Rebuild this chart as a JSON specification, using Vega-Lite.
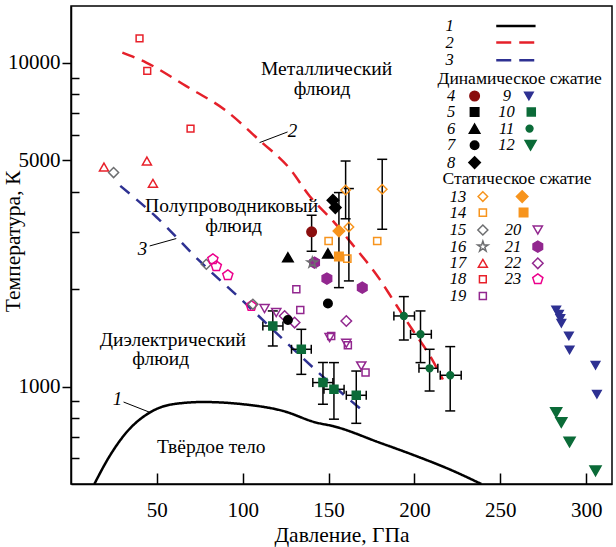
{
  "$schema": "https://vega.github.io/schema/vega-lite/v6.json",
  "width": 541,
  "height": 478,
  "autosize": {"type": "none"},
  "padding": {"left": 71, "top": 6, "right": 4, "bottom": 63},
  "background": "white",
  "config": {
    "font": "Liberation Serif",
    "view": {"stroke": "black", "strokeWidth": 1.5},
    "axis": {"grid": false, "domainColor": "black", "domainWidth": 1.5, "tickColor": "black", "tickWidth": 1.5, "labelColor": "black", "titleColor": "black", "labelFont": "Liberation Serif", "titleFont": "Liberation Serif", "labelFontSize": 21, "titleFontSize": 21.5, "titleFontWeight": "normal"}
  },
  "datasets": {
    "curves": [
      {"id": "1", "P": 13.6, "T": 500}, {"id": "1", "P": 22.5, "T": 610}, {"id": "1", "P": 32.2, "T": 721}, {"id": "1", "P": 45.8, "T": 831}, {"id": "1", "P": 59.3, "T": 882}, {"id": "1", "P": 76.8, "T": 896}, {"id": "1", "P": 100.1, "T": 882}, {"id": "1", "P": 123.4, "T": 841}, {"id": "1", "P": 142.8, "T": 774}, {"id": "1", "P": 152.5, "T": 755}, {"id": "1", "P": 179.7, "T": 671}, {"id": "1", "P": 201.0, "T": 610}, {"id": "1", "P": 220.4, "T": 555}, {"id": "1", "P": 238.9, "T": 500},
      {"id": "2", "P": 29.9, "T": 10770}, {"id": "2", "P": 43.8, "T": 10030}, {"id": "2", "P": 67.1, "T": 8480}, {"id": "2", "P": 90.4, "T": 7110}, {"id": "2", "P": 110, "T": 5750}, {"id": "2", "P": 127.3, "T": 4720}, {"id": "2", "P": 138.9, "T": 3880}, {"id": "2", "P": 152.5, "T": 3250}, {"id": "2", "P": 164.1, "T": 2740}, {"id": "2", "P": 179.7, "T": 2148}, {"id": "2", "P": 188, "T": 1835}, {"id": "2", "P": 199.1, "T": 1490}, {"id": "2", "P": 208.8, "T": 1250}, {"id": "2", "P": 216.5, "T": 1052},
      {"id": "3", "P": 28.7, "T": 4170}, {"id": "3", "P": 50, "T": 3330}, {"id": "3", "P": 75, "T": 2440}, {"id": "3", "P": 100, "T": 1840}, {"id": "3", "P": 125, "T": 1375}, {"id": "3", "P": 147, "T": 1070}, {"id": "3", "P": 170, "T": 841},
      {"id": "L1", "P": 247.6, "T": 13010}, {"id": "L1", "P": 270.5, "T": 13010},
      {"id": "L2", "P": 247.6, "T": 11563}, {"id": "L2", "P": 270.5, "T": 11563},
      {"id": "L3", "P": 247.6, "T": 10193}, {"id": "L3", "P": 270.5, "T": 10193}
    ],
    "leaders": [
      {"P": 30.6, "T": 896, "P2": 45.8, "T2": 833},
      {"P": 126.1, "T": 6122, "P2": 109.8, "T2": 5675},
      {"P": 45.8, "T": 2720, "P2": 61.3, "T2": 2867}
    ],
    "pts": [
      {"s": "18", "P": 39.9, "T": 11920}, {"s": "18", "P": 44.4, "T": 9448}, {"s": "18", "P": 69.6, "T": 6271},
      {"s": "17", "P": 19.2, "T": 4771}, {"s": "17", "P": 44.2, "T": 4979}, {"s": "17", "P": 47.7, "T": 4248},
      {"s": "15", "P": 24.8, "T": 4585}, {"s": "15", "P": 78.8, "T": 2388},
      {"s": "23", "P": 82.6, "T": 2474}, {"s": "23", "P": 84.6, "T": 2354}, {"s": "23", "P": 91.3, "T": 2208}, {"s": "23", "P": 105.0, "T": 1775},
      {"s": "15", "P": 105.9, "T": 1796},
      {"s": "20", "P": 112.7, "T": 1742}, {"s": "20", "P": 119.5, "T": 1693}, {"s": "20", "P": 150.6, "T": 1417}, {"s": "20", "P": 160.3, "T": 1361}, {"s": "20", "P": 169.0, "T": 1158},
      {"s": "22", "P": 124.4, "T": 1653}, {"s": "22", "P": 130.2, "T": 1577}, {"s": "22", "P": 160.3, "T": 1595},
      {"s": "19", "P": 131.2, "T": 1998}, {"s": "19", "P": 133.5, "T": 1725}, {"s": "19", "P": 151.5, "T": 1434}, {"s": "19", "P": 161.2, "T": 1342}, {"s": "19", "P": 171.5, "T": 1105},
      {"s": "21", "P": 141.8, "T": 2416}, {"s": "21", "P": 149.0, "T": 2157}, {"s": "21", "P": 169.6, "T": 2022},
      {"s": "16", "P": 140.5, "T": 2416},
      {"s": "7", "P": 126.3, "T": 1606}, {"s": "7", "P": 149.6, "T": 1805},
      {"s": "6", "P": 126.3, "T": 2509}, {"s": "6", "P": 149.6, "T": 2581},
      {"s": "4", "P": 140.1, "T": 3009, "Tlo": 2619, "Thi": 3384},
      {"s": "8", "P": 152.5, "T": 3765}, {"s": "8", "P": 153.9, "T": 3573},
      {"s": "14", "P": 150.0, "T": 2818}, {"s": "14", "P": 160.9, "T": 2486}, {"s": "14", "P": 178.3, "T": 2818},
      {"s": "14b", "P": 156.0, "T": 2522},
      {"s": "13b", "P": 156.0, "T": 3026, "Tlo": 2022, "Thi": 3977},
      {"s": "13", "P": 159.9, "T": 4051, "Tlo": 3300, "Thi": 4978}, {"s": "13", "P": 161.8, "T": 3113, "Tlo": 2121, "Thi": 4092}, {"s": "13", "P": 181.2, "T": 4072, "Tlo": 3063, "Thi": 5039},
      {"s": "10", "P": 117.5, "T": 1539, "Tlo": 1335, "Thi": 1713, "Plo": 111.7, "Phi": 123.4},
      {"s": "10", "P": 134.1, "T": 1304, "Tlo": 1091, "Thi": 1503, "Plo": 128.4, "Phi": 139.9},
      {"s": "10", "P": 146.7, "T": 1029, "Tlo": 882, "Thi": 1186, "Plo": 140.8, "Phi": 152.5},
      {"s": "10", "P": 153.1, "T": 981, "Tlo": 793, "Thi": 1186, "Plo": 147.3, "Phi": 159.0},
      {"s": "10", "P": 166.1, "T": 940, "Tlo": 770, "Thi": 1117, "Plo": 160.3, "Phi": 171.9},
      {"s": "11", "P": 193.8, "T": 1653, "Tlo": 1393, "Thi": 1897, "Plo": 188.0, "Phi": 200.0},
      {"s": "11", "P": 203.5, "T": 1451, "Tlo": 1186, "Thi": 1713, "Plo": 197.7, "Phi": 209.8},
      {"s": "11", "P": 208.8, "T": 1139, "Tlo": 969, "Thi": 1304, "Plo": 202.6, "Phi": 213.6},
      {"s": "11", "P": 220.8, "T": 1084, "Tlo": 841, "Thi": 1329, "Plo": 215.0, "Phi": 227.2},
      {"s": "9", "P": 282.5, "T": 1725}, {"s": "9", "P": 284.1, "T": 1673}, {"s": "9", "P": 284.9, "T": 1623}, {"s": "9", "P": 285.5, "T": 1569}, {"s": "9", "P": 289.9, "T": 1434}, {"s": "9", "P": 290.3, "T": 1298}, {"s": "9", "P": 305.4, "T": 1164}, {"s": "9", "P": 306.2, "T": 947},
      {"s": "12", "P": 282.5, "T": 831}, {"s": "12", "P": 285.5, "T": 774}, {"s": "12", "P": 290.3, "T": 674}, {"s": "12", "P": 305.4, "T": 549}
    ],
    "legsym": [
      {"s": "4", "P": 235.0, "T": 7907}, {"s": "5", "P": 235.0, "T": 7058}, {"s": "6", "P": 235.0, "T": 6270}, {"s": "7", "P": 235.0, "T": 5568}, {"s": "8", "P": 235.0, "T": 4922},
      {"s": "9", "P": 266.6, "T": 7907}, {"s": "10", "P": 268.0, "T": 7058}, {"s": "11", "P": 267.0, "T": 6270}, {"s": "12", "P": 267.6, "T": 5568},
      {"s": "13", "P": 239.8, "T": 3865}, {"s": "13b", "P": 262.7, "T": 3865},
      {"s": "14", "P": 239.8, "T": 3449}, {"s": "14b", "P": 263.5, "T": 3449},
      {"s": "15", "P": 239.8, "T": 3047}, {"s": "16", "P": 239.8, "T": 2708}, {"s": "17", "P": 239.8, "T": 2404}, {"s": "18", "P": 239.8, "T": 2146}, {"s": "19", "P": 239.8, "T": 1905},
      {"s": "20", "P": 271.8, "T": 3047}, {"s": "21", "P": 271.8, "T": 2708}, {"s": "22", "P": 271.8, "T": 2404}, {"s": "23", "P": 271.8, "T": 2146}
    ],
    "texts": [
      {"kind": "region", "txt": "Металлический", "P": 148.8, "T": 9561},
      {"kind": "region", "txt": "флюид", "P": 146.2, "T": 8294},
      {"kind": "region", "txt": "Полупроводниковый", "P": 93.5, "T": 3614},
      {"kind": "region", "txt": "флюид", "P": 94.7, "T": 3136},
      {"kind": "region", "txt": "Диэлектрический", "P": 59.3, "T": 1393},
      {"kind": "region", "txt": "флюид", "P": 52.2, "T": 1214},
      {"kind": "region", "txt": "Твёрдое тело", "P": 81.7, "T": 651},
      {"kind": "head", "txt": "Динамическое сжатие", "P": 261.2, "T": 8950},
      {"kind": "head", "txt": "Статическое сжатие", "P": 259.7, "T": 4394},
      {"kind": "curvelab", "txt": "1", "P": 27.1, "T": 914},
      {"kind": "curvelab", "txt": "2", "P": 129.0, "T": 6166},
      {"kind": "curvelab", "txt": "3", "P": 41.7, "T": 2657},
      {"kind": "legnum", "txt": "1", "P": 220.4, "T": 13010},
      {"kind": "legnum", "txt": "2", "P": 220.4, "T": 11563},
      {"kind": "legnum", "txt": "3", "P": 220.4, "T": 10193},
      {"kind": "legnum", "txt": "4", "P": 221.4, "T": 7907},
      {"kind": "legnum", "txt": "5", "P": 221.4, "T": 7058},
      {"kind": "legnum", "txt": "6", "P": 221.4, "T": 6270},
      {"kind": "legnum", "txt": "7", "P": 221.4, "T": 5568},
      {"kind": "legnum", "txt": "8", "P": 221.4, "T": 4922},
      {"kind": "legnum", "txt": "9", "P": 253.8, "T": 7907},
      {"kind": "legnum", "txt": "10", "P": 253.6, "T": 7058},
      {"kind": "legnum", "txt": "11", "P": 253.6, "T": 6270},
      {"kind": "legnum", "txt": "12", "P": 253.6, "T": 5568},
      {"kind": "legnum", "txt": "13", "P": 225.3, "T": 3865},
      {"kind": "legnum", "txt": "14", "P": 225.3, "T": 3449},
      {"kind": "legnum", "txt": "15", "P": 225.3, "T": 3047},
      {"kind": "legnum", "txt": "16", "P": 225.3, "T": 2708},
      {"kind": "legnum", "txt": "17", "P": 225.3, "T": 2404},
      {"kind": "legnum", "txt": "18", "P": 225.3, "T": 2146},
      {"kind": "legnum", "txt": "19", "P": 225.3, "T": 1905},
      {"kind": "legnum", "txt": "20", "P": 257.3, "T": 3047},
      {"kind": "legnum", "txt": "21", "P": 257.3, "T": 2708},
      {"kind": "legnum", "txt": "22", "P": 257.3, "T": 2404},
      {"kind": "legnum", "txt": "23", "P": 257.3, "T": 2146}
    ]
  },
  "layer": [
    {
      "data": {"name": "curves"},
      "mark": {"type": "line", "strokeWidth": 2.5, "clip": true, "interpolate": "monotone"},
      "encoding": {
        "x": {"field": "P", "type": "quantitative", "scale": {"domain": [0, 315], "nice": false, "zero": false},
          "axis": {"values": [50, 100, 150, 200, 250, 300], "tickSize": -11, "labelPadding": 26, "labelFlush": false, "labelOverlap": false, "title": "Давление, ГПа", "titleY": 57, "titleBaseline": "alphabetic"}},
        "y": {"field": "T", "type": "quantitative", "scale": {"type": "log", "domain": [500, 15000], "nice": false},
          "axis": {"values": [600, 700, 800, 900, 1000, 2000, 3000, 4000, 5000, 6000, 7000, 8000, 9000, 10000],
            "labelExpr": "(datum.value == 1000 || datum.value == 5000 || datum.value == 10000) ? format(datum.value, 'd') : ''",
            "tickSize": {"condition": {"test": "datum.value == 1000 || datum.value == 5000 || datum.value == 10000", "value": 9}, "value": -8},
            "labelPadding": 2, "labelFlush": false, "labelOverlap": false,
            "title": "Температура, К", "titleX": -58, "titleY": 235, "titleAngle": -90, "titleAlign": "center", "titleBaseline": "middle"}},
        "color": {"field": "id", "type": "nominal", "scale": {"domain": ["1", "2", "3", "L1", "L2", "L3"], "range": ["#000000", "#e5202a", "#2e3192", "#000000", "#e5202a", "#2e3192"]}, "legend": null},
        "strokeDash": {"field": "id", "type": "nominal", "scale": {"domain": ["1", "2", "3", "L1", "L2", "L3"], "range": [[1, 0], [13, 8], [12, 9], [1, 0], [15, 8], [15, 8]]}, "legend": null}
      }
    },
    {
      "data": {"name": "leaders"},
      "mark": {"type": "rule", "strokeWidth": 1, "color": "black"},
      "encoding": {
        "x": {"field": "P", "type": "quantitative", "scale": {"domain": [0, 315], "nice": false, "zero": false}},
        "y": {"field": "T", "type": "quantitative", "scale": {"type": "log", "domain": [500, 15000], "nice": false}},
        "x2": {"field": "P2"},
        "y2": {"field": "T2"}
      }
    },
    {
      "data": {"name": "pts"},
      "transform": [{"filter": "isValid(datum.Tlo)"}],
      "layer": [
        {
          "mark": {"type": "rule", "strokeWidth": 1.5, "color": "black"},
          "encoding": {
            "x": {"field": "P", "type": "quantitative", "scale": {"domain": [0, 315], "nice": false, "zero": false}},
            "y": {"field": "Tlo", "type": "quantitative", "scale": {"type": "log", "domain": [500, 15000], "nice": false}},
            "y2": {"field": "Thi"}
          }
        },
        {
          "mark": {"type": "tick", "orient": "horizontal", "size": 10, "thickness": 1.5, "color": "black", "opacity": 1},
          "encoding": {
            "x": {"field": "P", "type": "quantitative", "scale": {"domain": [0, 315], "nice": false, "zero": false}},
            "y": {"field": "Tlo", "type": "quantitative", "scale": {"type": "log", "domain": [500, 15000], "nice": false}}
          }
        },
        {
          "mark": {"type": "tick", "orient": "horizontal", "size": 10, "thickness": 1.5, "color": "black", "opacity": 1},
          "encoding": {
            "x": {"field": "P", "type": "quantitative", "scale": {"domain": [0, 315], "nice": false, "zero": false}},
            "y": {"field": "Thi", "type": "quantitative", "scale": {"type": "log", "domain": [500, 15000], "nice": false}}
          }
        }
      ]
    },
    {
      "data": {"name": "pts"},
      "transform": [{"filter": "isValid(datum.Plo)"}],
      "layer": [
        {
          "mark": {"type": "rule", "strokeWidth": 1.5, "color": "black"},
          "encoding": {
            "x": {"field": "Plo", "type": "quantitative", "scale": {"domain": [0, 315], "nice": false, "zero": false}},
            "x2": {"field": "Phi"},
            "y": {"field": "T", "type": "quantitative", "scale": {"type": "log", "domain": [500, 15000], "nice": false}}
          }
        },
        {
          "mark": {"type": "tick", "orient": "vertical", "size": 9, "thickness": 1.5, "color": "black", "opacity": 1},
          "encoding": {
            "x": {"field": "Plo", "type": "quantitative", "scale": {"domain": [0, 315], "nice": false, "zero": false}},
            "y": {"field": "T", "type": "quantitative", "scale": {"type": "log", "domain": [500, 15000], "nice": false}}
          }
        },
        {
          "mark": {"type": "tick", "orient": "vertical", "size": 9, "thickness": 1.5, "color": "black", "opacity": 1},
          "encoding": {
            "x": {"field": "Phi", "type": "quantitative", "scale": {"domain": [0, 315], "nice": false, "zero": false}},
            "y": {"field": "T", "type": "quantitative", "scale": {"type": "log", "domain": [500, 15000], "nice": false}}
          }
        }
      ]
    },
    {
      "data": {"name": "pts"},
      "mark": {"type": "point", "filled": false, "opacity": 1, "strokeWidth": 1.5, "size": 100},
      "encoding": {
        "x": {"field": "P", "type": "quantitative", "scale": {"domain": [0, 315], "nice": false, "zero": false}},
        "y": {"field": "T", "type": "quantitative", "scale": {"type": "log", "domain": [500, 15000], "nice": false}},
        "shape": {"field": "s", "type": "nominal", "legend": null, "scale": {"domain": ["4", "5", "6", "7", "8", "9", "10", "11", "12", "13", "13b", "14", "14b", "15", "16", "17", "18", "19", "20", "21", "22", "23"], "range": [
          "M0,-0.95C0.525,-0.95 0.95,-0.525 0.95,0C0.95,0.525 0.525,0.95 0,0.95C-0.525,0.95 -0.95,0.525 -0.95,0C-0.95,-0.525 -0.525,-0.95 0,-0.95Z",
          "M-0.85,-0.85L0.85,-0.85L0.85,0.85L-0.85,0.85Z",
          "M0,-0.909L1.05,0.909L-1.05,0.909Z",
          "M0,-0.85C0.469,-0.85 0.85,-0.469 0.85,0C0.85,0.469 0.469,0.85 0,0.85C-0.469,0.85 -0.85,0.469 -0.85,0C-0.85,-0.469 -0.469,-0.85 0,-0.85Z",
          "M-1.15,0L0,-1.15L1.15,0L0,1.15Z",
          "M0,0.736L-0.85,-0.736L0.85,-0.736Z",
          "M-0.8,-0.8L0.8,-0.8L0.8,0.8L-0.8,0.8Z",
          "M0,-0.68C0.376,-0.68 0.68,-0.376 0.68,0C0.68,0.376 0.376,0.68 0,0.68C-0.376,0.68 -0.68,0.376 -0.68,0C-0.68,-0.376 -0.376,-0.68 0,-0.68Z",
          "M0,0.953L-1.1,-0.953L1.1,-0.953Z",
          "M-0.95,0L0,-0.95L0.95,0L0,0.95Z",
          "M-1.15,0L0,-1.15L1.15,0L0,1.15Z",
          "M-0.72,-0.72L0.72,-0.72L0.72,0.72L-0.72,0.72Z",
          "M-0.85,-0.85L0.85,-0.85L0.85,0.85L-0.85,0.85Z",
          "M-1,0L0,-1L1,0L0,1Z",
          "M0,-1.1L0.247,-0.34L1.046,-0.34L0.4,0.13L0.647,0.89L0,0.42L-0.647,0.89L-0.4,0.13L-1.046,-0.34L-0.247,-0.34Z",
          "M0,-0.779L0.9,0.779L-0.9,0.779Z",
          "M-0.68,-0.68L0.68,-0.68L0.68,0.68L-0.68,0.68Z",
          "M-0.7,-0.7L0.7,-0.7L0.7,0.7L-0.7,0.7Z",
          "M0,0.797L-0.92,-0.797L0.92,-0.797Z",
          "M0,-1.1L0.953,-0.55L0.953,0.55L0,1.1L-0.953,0.55L-0.953,-0.55Z",
          "M-1.05,0L0,-1.05L1.05,0L0,1.05Z",
          "M0,-1.07L1.018,-0.331L0.629,0.866L-0.629,0.866L-1.018,-0.331Z"
        ]}},
        "stroke": {"field": "s", "type": "nominal", "legend": null, "scale": {"domain": ["4", "5", "6", "7", "8", "9", "10", "11", "12", "13", "13b", "14", "14b", "15", "16", "17", "18", "19", "20", "21", "22", "23"], "range": ["#8a0e0e", "#000000", "#000000", "#000000", "#000000", "#2e3192", "#0b6b38", "#0b6b38", "#0b6b38", "#f7941d", "#f7941d", "#f7941d", "#f7941d", "#6d6e70", "#6d6e70", "#e8202a", "#e8202a", "#92278f", "#92278f", "#92278f", "#92278f", "#ec008c"]}},
        "fill": {"field": "s", "type": "nominal", "legend": null, "scale": {"domain": ["4", "5", "6", "7", "8", "9", "10", "11", "12", "13", "13b", "14", "14b", "15", "16", "17", "18", "19", "20", "21", "22", "23"], "range": ["#8a0e0e", "#000000", "#000000", "#000000", "#000000", "#2e3192", "#0b6b38", "#0b6b38", "#0b6b38", "transparent", "#f7941d", "transparent", "#f7941d", "transparent", "transparent", "transparent", "transparent", "transparent", "transparent", "#92278f", "transparent", "transparent"]}}
      }
    },
    {
      "data": {"name": "legsym"},
      "mark": {"type": "point", "filled": false, "opacity": 1, "strokeWidth": 1.5, "size": 100},
      "encoding": {
        "x": {"field": "P", "type": "quantitative", "scale": {"domain": [0, 315], "nice": false, "zero": false}},
        "y": {"field": "T", "type": "quantitative", "scale": {"type": "log", "domain": [500, 15000], "nice": false}},
        "shape": {"field": "s", "type": "nominal", "legend": null},
        "stroke": {"field": "s", "type": "nominal", "legend": null},
        "fill": {"field": "s", "type": "nominal", "legend": null}
      }
    },
    {
      "data": {"name": "texts"},
      "transform": [{"filter": "datum.kind == 'region'"}],
      "mark": {"type": "text", "font": "Liberation Serif", "fontSize": 19.5, "align": "center", "baseline": "middle", "color": "black"},
      "encoding": {
        "x": {"field": "P", "type": "quantitative", "scale": {"domain": [0, 315], "nice": false, "zero": false}},
        "y": {"field": "T", "type": "quantitative", "scale": {"type": "log", "domain": [500, 15000], "nice": false}},
        "text": {"field": "txt"}
      }
    },
    {
      "data": {"name": "texts"},
      "transform": [{"filter": "datum.kind == 'head'"}],
      "mark": {"type": "text", "font": "Liberation Serif", "fontSize": 17.5, "align": "center", "baseline": "middle", "color": "black"},
      "encoding": {
        "x": {"field": "P", "type": "quantitative", "scale": {"domain": [0, 315], "nice": false, "zero": false}},
        "y": {"field": "T", "type": "quantitative", "scale": {"type": "log", "domain": [500, 15000], "nice": false}},
        "text": {"field": "txt"}
      }
    },
    {
      "data": {"name": "texts"},
      "transform": [{"filter": "datum.kind == 'legnum'"}],
      "mark": {"type": "text", "font": "Liberation Serif", "fontSize": 16.5, "fontStyle": "italic", "align": "center", "baseline": "middle", "color": "black"},
      "encoding": {
        "x": {"field": "P", "type": "quantitative", "scale": {"domain": [0, 315], "nice": false, "zero": false}},
        "y": {"field": "T", "type": "quantitative", "scale": {"type": "log", "domain": [500, 15000], "nice": false}},
        "text": {"field": "txt"}
      }
    },
    {
      "data": {"name": "texts"},
      "transform": [{"filter": "datum.kind == 'curvelab'"}],
      "mark": {"type": "text", "font": "Liberation Serif", "fontSize": 19, "fontStyle": "italic", "align": "center", "baseline": "middle", "color": "black"},
      "encoding": {
        "x": {"field": "P", "type": "quantitative", "scale": {"domain": [0, 315], "nice": false, "zero": false}},
        "y": {"field": "T", "type": "quantitative", "scale": {"type": "log", "domain": [500, 15000], "nice": false}},
        "text": {"field": "txt"}
      }
    }
  ]
}
